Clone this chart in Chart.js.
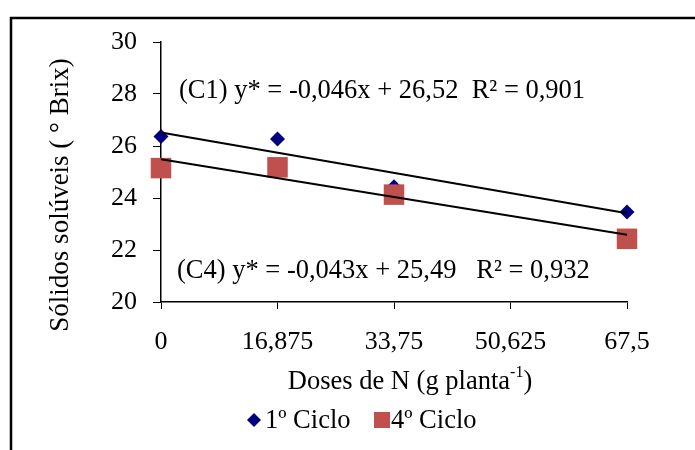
<!DOCTYPE html>
<html>
<head>
<meta charset="utf-8">
<script src="https://cdn.jsdelivr.net/npm/chart.js@4"></script>
<style>
  html, body { margin: 0; padding: 0; background: #fff; }
  #wrap { width: 695px; height: 450px; }
</style>
</head>
<body>
<div id="wrap"><canvas id="grafico" width="695" height="450"></canvas></div>
<script>
// dados
const doses = [0, 16.875, 33.75, 67.5];
const ciclo1 = [26.37, 26.27, 24.43, 23.46];
const ciclo4 = [25.15, 25.18, 24.13, 22.43];
const trendX = [0, 67.5];
const trendC1 = [26.52, 23.415];
const trendC4 = [25.49, 22.59];
const xTicks = [0, 16.875, 33.75, 50.625, 67.5];
const yTicks = [20, 22, 24, 26, 28, 30];
const serieNomes = ['1º Ciclo', '4º Ciclo'];
const eqC1 = '(C1) y* = -0,046x + 26,52  R² = 0,901';
const eqC4 = '(C4) y* = -0,043x + 25,49   R² = 0,932';

const FONTE = "'Liberation Serif', 'Times New Roman', serif";
const AZUL = '#000080';
const VERMELHO = '#C0504D';

const pts = (xs, ys) => xs.map((x, i) => ({ x: x, y: ys[i] }));

const extras = {
  id: 'extras',
  beforeDraw(chart) {
    const ctx = chart.ctx;
    ctx.save();
    ctx.strokeStyle = '#000';
    ctx.lineWidth = 2.5;
    ctx.strokeRect(11, 18, 900, 700);
    ctx.restore();
  },
  afterDraw(chart) {
    const ctx = chart.ctx;
    ctx.save();
    ctx.fillStyle = '#000';
    ctx.font = '26.5px ' + FONTE;
    ctx.textBaseline = 'middle';
    ctx.textAlign = 'left';
    ctx.fillText(eqC1, 179, 91);
    ctx.fillText(eqC4, 177, 271);

    // titulo eixo y
    ctx.save();
    ctx.translate(61, 195);
    ctx.rotate(-Math.PI / 2);
    ctx.textAlign = 'center';
    ctx.font = '27px ' + FONTE;
    ctx.fillText('Sólidos solúveis ( ° Brix)', 0, 0);
    ctx.restore();

    // titulo eixo x com expoente
    const base = 'Doses de N (g planta';
    const sup = '-1';
    const fim = ')';
    ctx.font = '26.5px ' + FONTE;
    const w1 = ctx.measureText(base).width;
    const w3 = ctx.measureText(fim).width;
    ctx.font = '16px ' + FONTE;
    const w2 = ctx.measureText(sup).width;
    let x = 410 - (w1 + w2 + w3) / 2;
    ctx.textBaseline = 'alphabetic';
    ctx.font = '26.5px ' + FONTE;
    ctx.fillText(base, x, 389);
    ctx.font = '16px ' + FONTE;
    ctx.fillText(sup, x + w1, 377);
    ctx.font = '26.5px ' + FONTE;
    ctx.fillText(fim, x + w1 + w2, 389);

    // legenda
    ctx.textBaseline = 'middle';
    ctx.fillStyle = AZUL;
    ctx.beginPath();
    ctx.moveTo(254, 413); ctx.lineTo(261, 420); ctx.lineTo(254, 427); ctx.lineTo(247, 420);
    ctx.closePath();
    ctx.fill();
    ctx.fillStyle = '#000';
    ctx.fillText(serieNomes[0], 265, 421);
    ctx.fillStyle = VERMELHO;
    ctx.fillRect(374, 412, 16, 16);
    ctx.fillStyle = '#000';
    ctx.fillText(serieNomes[1], 391, 421);
    ctx.restore();
  }
};

new Chart(document.getElementById('grafico'), {
  type: 'scatter',
  data: {
    datasets: [
      {
        label: 'C1',
        type: 'line',
        data: pts(trendX, trendC1),
        borderColor: '#000',
        borderWidth: 2,
        pointRadius: 0,
        fill: false,
        clip: false
      },
      {
        label: 'C4',
        type: 'line',
        data: pts(trendX, trendC4),
        borderColor: '#000',
        borderWidth: 2,
        pointRadius: 0,
        fill: false,
        clip: false
      },
      {
        label: serieNomes[1],
        data: pts(doses, ciclo4),
        pointStyle: 'rect',
        pointRadius: 14.5,
        pointHoverRadius: 14.5,
        backgroundColor: VERMELHO,
        borderColor: VERMELHO,
        borderWidth: 0,
        clip: false
      },
      {
        label: serieNomes[0],
        data: pts(doses, ciclo1),
        pointStyle: 'rectRot',
        pointRadius: 7.5,
        pointHoverRadius: 7.5,
        backgroundColor: AZUL,
        borderColor: AZUL,
        borderWidth: 0,
        clip: false
      }
    ]
  },
  options: {
    responsive: false,
    animation: false,
    events: [],
    layout: { padding: { left: 0, top: 42, right: 68, bottom: 0 } },
    plugins: {
      legend: { display: false },
      tooltip: { enabled: false }
    },
    scales: {
      x: {
        type: 'linear',
        min: 0,
        max: 67.5,
        afterFit(scale) { scale.height = 148; },
        afterBuildTicks(scale) { scale.ticks = xTicks.map(v => ({ value: v })); },
        grid: { drawOnChartArea: false, drawTicks: true, tickLength: 7, color: '#000', lineWidth: 1 },
        border: { display: true, color: '#000', width: 1.5 },
        ticks: {
          color: '#000',
          font: { family: FONTE, size: 26 },
          padding: 18,
          maxRotation: 0,
          callback: v => String(v).replace('.', ',')
        }
      },
      y: {
        min: 20,
        max: 30,
        afterFit(scale) { scale.width = 161; },
        afterBuildTicks(scale) { scale.ticks = yTicks.map(v => ({ value: v })); },
        grid: { drawOnChartArea: false, drawTicks: true, tickLength: 8, color: '#000', lineWidth: 1 },
        border: { display: true, color: '#000', width: 1.5 },
        ticks: {
          color: '#000',
          font: { family: FONTE, size: 26 },
          padding: 16
        }
      }
    }
  },
  plugins: [extras]
});
</script>
</body>
</html>
